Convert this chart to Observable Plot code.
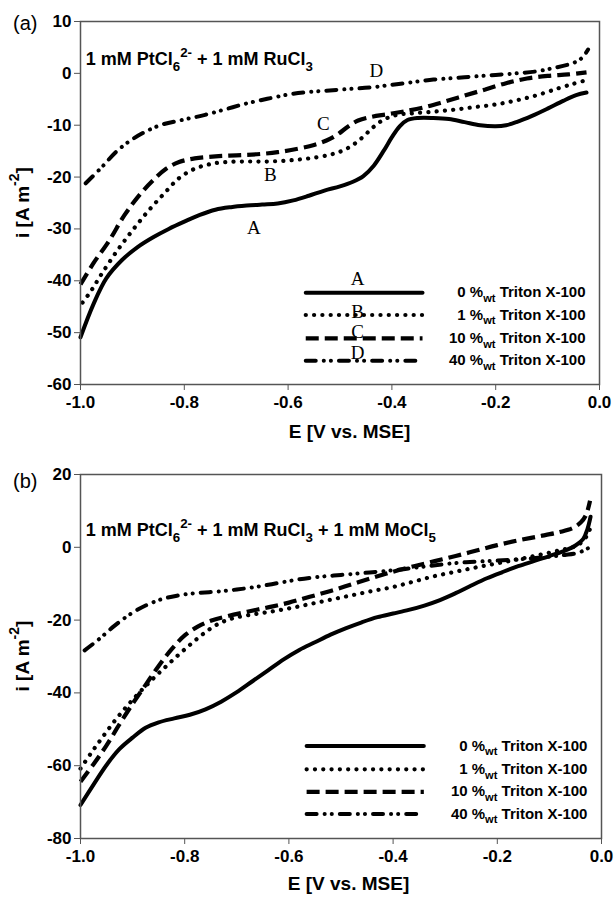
<!DOCTYPE html>
<html>
<head>
<meta charset="utf-8">
<script src="https://cdn.jsdelivr.net/npm/d3@7"></script>
<script src="https://cdn.jsdelivr.net/npm/@observablehq/plot@0.6"></script>
<style>
  body { margin: 0; background: #fff; }
  #chart { width: 614px; }
  #chart svg { display: block; overflow: visible; }
</style>
</head>
<body>
<div id="chart"></div>
<script>
// ---------------- DATA ----------------
// x ticks (E, V vs. MSE)
const xTicks = [-1.0, -0.8, -0.6, -0.4, -0.2, 0.0];
const yTicksA = [10, 0, -10, -20, -30, -40, -50, -60];
const yTicksB = [20, 0, -20, -40, -60, -80];

const seriesKeys = ["A", "B", "C", "D"];
const tritonPercent = ["0", "1", "10", "40"];

// Panel (a): 1 mM PtCl6^2- + 1 mM RuCl3   [E, i]
const a_A = [[-1.0,-50.9],[-0.975,-44.5],[-0.95,-39.5],[-0.92,-36.0],[-0.89,-33.5],[-0.86,-31.6],[-0.83,-30.0],[-0.8,-28.6],[-0.77,-27.3],[-0.74,-26.3],[-0.71,-25.8],[-0.68,-25.5],[-0.65,-25.3],[-0.62,-25.1],[-0.59,-24.5],[-0.56,-23.6],[-0.53,-22.6],[-0.5,-21.8],[-0.475,-20.9],[-0.455,-19.8],[-0.435,-17.8],[-0.415,-14.8],[-0.4,-12.3],[-0.385,-10.2],[-0.37,-9.0],[-0.35,-8.6],[-0.32,-8.6],[-0.29,-8.8],[-0.26,-9.4],[-0.23,-10.0],[-0.2,-10.2],[-0.18,-10.0],[-0.16,-9.4],[-0.13,-8.2],[-0.1,-6.8],[-0.07,-5.3],[-0.045,-4.2],[-0.025,-3.7]];
const a_B = [[-0.996,-44.2],[-0.98,-42.0],[-0.96,-38.8],[-0.93,-34.3],[-0.9,-30.3],[-0.87,-26.6],[-0.84,-23.3],[-0.81,-20.2],[-0.78,-18.4],[-0.75,-17.5],[-0.72,-17.1],[-0.68,-17.0],[-0.64,-17.0],[-0.6,-16.8],[-0.56,-16.4],[-0.52,-15.7],[-0.495,-14.9],[-0.475,-13.8],[-0.455,-12.2],[-0.435,-10.3],[-0.415,-8.9],[-0.39,-8.0],[-0.36,-7.7],[-0.32,-7.4],[-0.28,-7.0],[-0.24,-6.5],[-0.2,-6.0],[-0.16,-5.2],[-0.12,-4.2],[-0.08,-2.9],[-0.05,-2.0],[-0.025,-1.3]];
const a_C = [[-1.0,-40.7],[-0.975,-36.6],[-0.945,-32.3],[-0.915,-27.3],[-0.885,-23.3],[-0.86,-20.6],[-0.835,-18.4],[-0.81,-17.1],[-0.78,-16.4],[-0.74,-16.0],[-0.7,-15.8],[-0.66,-15.6],[-0.62,-15.2],[-0.58,-14.5],[-0.55,-13.8],[-0.525,-12.9],[-0.505,-11.8],[-0.485,-10.3],[-0.465,-9.1],[-0.44,-8.4],[-0.41,-7.9],[-0.38,-7.4],[-0.34,-6.6],[-0.3,-5.5],[-0.26,-4.3],[-0.22,-3.1],[-0.18,-1.9],[-0.14,-1.0],[-0.1,-0.5],[-0.06,-0.2],[-0.025,0.2]];
const a_D = [[-0.99,-21.2],[-0.96,-18.2],[-0.93,-15.0],[-0.9,-12.7],[-0.87,-11.0],[-0.84,-9.8],[-0.8,-8.9],[-0.76,-8.0],[-0.72,-6.9],[-0.68,-5.8],[-0.64,-4.9],[-0.6,-4.1],[-0.56,-3.6],[-0.52,-3.3],[-0.48,-3.0],[-0.44,-2.7],[-0.4,-2.2],[-0.36,-1.7],[-0.32,-1.2],[-0.28,-0.9],[-0.24,-0.6],[-0.2,-0.3],[-0.16,0.0],[-0.12,0.4],[-0.09,1.0],[-0.06,1.7],[-0.04,2.5],[-0.03,3.4],[-0.022,4.6]];

// Panel (b): 1 mM PtCl6^2- + 1 mM RuCl3 + 1 mM MoCl5   [E, i]
const b_A = [[-1.0,-70.8],[-0.975,-65.2],[-0.95,-59.8],[-0.925,-55.4],[-0.9,-52.3],[-0.875,-49.6],[-0.85,-48.1],[-0.82,-47.0],[-0.79,-46.0],[-0.76,-44.5],[-0.73,-42.4],[-0.7,-39.8],[-0.67,-36.8],[-0.64,-33.8],[-0.61,-30.8],[-0.58,-28.2],[-0.55,-26.1],[-0.52,-24.0],[-0.49,-22.2],[-0.46,-20.6],[-0.43,-19.2],[-0.4,-18.2],[-0.37,-17.2],[-0.34,-16.0],[-0.31,-14.5],[-0.28,-12.6],[-0.25,-10.5],[-0.22,-8.5],[-0.19,-6.8],[-0.16,-5.2],[-0.13,-3.8],[-0.1,-2.4],[-0.07,-0.9],[-0.05,0.5],[-0.035,2.3],[-0.027,5.0],[-0.021,8.4]];
const b_B = [[-1.0,-60.8],[-0.98,-56.6],[-0.96,-52.6],[-0.935,-47.8],[-0.91,-43.5],[-0.885,-39.6],[-0.86,-36.0],[-0.835,-32.6],[-0.81,-29.3],[-0.785,-26.2],[-0.76,-23.3],[-0.735,-21.0],[-0.71,-19.6],[-0.68,-18.7],[-0.64,-17.8],[-0.6,-16.8],[-0.56,-15.6],[-0.52,-14.4],[-0.48,-13.2],[-0.44,-12.0],[-0.4,-10.9],[-0.36,-9.4],[-0.32,-7.9],[-0.28,-6.7],[-0.24,-5.5],[-0.2,-4.4],[-0.16,-3.3],[-0.12,-2.1],[-0.08,-0.8],[-0.05,0.3],[-0.035,1.8],[-0.025,4.0],[-0.021,5.6]];
const b_C = [[-1.0,-64.4],[-0.975,-59.6],[-0.95,-54.4],[-0.925,-48.6],[-0.9,-43.0],[-0.875,-37.8],[-0.85,-32.6],[-0.825,-28.0],[-0.8,-24.2],[-0.775,-21.8],[-0.75,-20.2],[-0.72,-19.0],[-0.68,-17.7],[-0.64,-16.5],[-0.6,-15.2],[-0.56,-13.6],[-0.52,-12.0],[-0.48,-10.2],[-0.44,-8.4],[-0.4,-6.7],[-0.36,-5.2],[-0.32,-3.8],[-0.28,-2.4],[-0.24,-0.9],[-0.2,0.6],[-0.16,1.9],[-0.12,3.0],[-0.08,4.2],[-0.055,5.3],[-0.04,6.8],[-0.03,8.8],[-0.022,12.8]];
const b_D = [[-0.992,-28.3],[-0.965,-25.3],[-0.935,-21.6],[-0.905,-18.4],[-0.875,-16.0],[-0.845,-14.3],[-0.815,-13.3],[-0.78,-12.6],[-0.74,-12.2],[-0.7,-11.6],[-0.66,-10.8],[-0.62,-9.8],[-0.58,-8.8],[-0.54,-8.1],[-0.5,-7.6],[-0.46,-7.1],[-0.42,-6.6],[-0.38,-6.0],[-0.34,-5.3],[-0.3,-4.6],[-0.26,-4.1],[-0.22,-3.8],[-0.18,-3.5],[-0.14,-3.1],[-0.1,-2.6],[-0.07,-2.1],[-0.045,-1.5],[-0.03,-0.6],[-0.022,0.1]];

// Curve letter labels in panel (a): [letter, E, i]
const curveLabelsA = [["D",-0.43,0.4],["C",-0.532,-9.7],["B",-0.634,-19.6],["A",-0.666,-29.8]];

// ---------------- STYLE / LAYOUT ----------------
const FONT = "Liberation Sans, Arial, Helvetica, sans-serif";
const SERIF = "Liberation Serif, Times New Roman, serif";
const lineStyle = {
  A: {strokeWidth: 4.0, strokeDasharray: null, strokeLinecap: "round"},
  B: {strokeWidth: 4.2, strokeDasharray: "0.1 8.2", strokeLinecap: "round"},
  C: {strokeWidth: 4.2, strokeDasharray: "13 6", strokeLinecap: "butt"},
  D: {strokeWidth: 4.0, strokeDasharray: "10 8 0.1 7 0.1 8", strokeLinecap: "round"}
};

const panels = [
  {
    tag: "(a)", series: {A: a_A, B: a_B, C: a_C, D: a_D}, yDomain: [-60, 10], yTicks: yTicksA,
    height: 444, marginTop: 21, marginBottom: 60, marginRight: 15,
    tagY: 25, xTitleY: 433, xTitleShift: 10,
    note: [{t: "1 mM PtCl"}, {t: "6", s: "sub"}, {t: "2-", s: "sup"}, {t: " + 1 mM RuCl"}, {t: "3", s: "sub"}],
    noteAt: [-0.989, 1.5],
    legend: {x1: -0.566, x2: -0.341, xText: -0.026, rows: [-42.3, -46.6, -51.1, -55.4],
             letterX: -0.466, letterY: [-39.6, -46.0, -49.8, -53.9]},
    letters: curveLabelsA
  },
  {
    tag: "(b)", series: {A: b_A, B: b_B, C: b_C, D: b_D}, yDomain: [-80, 20], yTicks: yTicksB,
    height: 454, marginTop: 30, marginBottom: 60, marginRight: 13,
    tagY: 39, xTitleY: 441, xTitleShift: 8,
    note: [{t: "1 mM PtCl"}, {t: "6", s: "sub"}, {t: "2-", s: "sup"}, {t: " + 1 mM RuCl"}, {t: "3", s: "sub"}, {t: " + 1 mM MoCl"}, {t: "5", s: "sub"}],
    noteAt: [-0.989, 3.0],
    legend: {x1: -0.566, x2: -0.341, xText: -0.026, rows: [-54.6, -61.0, -67.2, -73.3]},
    letters: []
  }
];

// rich text helper: parts [{t, s: "sub"|"sup"}]
function richText(sel, parts, fs) {
  let cur = 0;
  for (const p of parts) {
    const target = p.s === "sub" ? 0.32 * fs : p.s === "sup" ? -0.45 * fs : 0;
    const ts = sel.append("tspan").text(p.t).attr("dy", target - cur);
    if (p.s) ts.attr("font-size", 0.74 * fs);
    cur = target;
  }
}

const container = d3.select("#chart");

for (const P of panels) {
  const marks = [];
  const lg = P.legend;
  seriesKeys.forEach((k, i) => {
    marks.push(Plot.line([[lg.x1, lg.rows[i]], [lg.x2, lg.rows[i]]], {
      x: d => d[0], y: d => d[1], stroke: "#000", ...lineStyle[k]
    }));
  });
  for (const k of seriesKeys) {
    marks.push(Plot.line(P.series[k], {
      x: d => d[0], y: d => d[1], curve: "catmull-rom", stroke: "#000", ...lineStyle[k]
    }));
  }
  if (P.letters.length) {
    marks.push(Plot.text(P.letters, {
      x: d => d[1], y: d => d[2], text: d => d[0],
      fontFamily: SERIF, fontSize: 19, fontWeight: "normal", fill: "#000"
    }));
  }
  if (lg.letterY) {
    marks.push(Plot.text(seriesKeys, {
      x: () => lg.letterX, y: (d, i) => lg.letterY[i], text: d => d,
      fontFamily: SERIF, fontSize: 19, fontWeight: "normal", fill: "#000"
    }));
  }
  marks.push(Plot.frame({stroke: "#555", strokeWidth: 1.5}));
  marks.push(Plot.axisX(xTicks, {
    anchor: "bottom", tickFormat: d => d.toFixed(1), tickSize: 6, tickPadding: 5,
    label: null, stroke: "#555", fill: "#000", fontSize: 17
  }));
  marks.push(Plot.axisY(P.yTicks, {
    anchor: "left", tickFormat: d => String(d), tickSize: 6, tickPadding: 3,
    label: null, stroke: "#555", fill: "#000", fontSize: 17
  }));

  const svg = Plot.plot({
    width: 614, height: P.height,
    marginLeft: 80, marginRight: P.marginRight, marginTop: P.marginTop, marginBottom: P.marginBottom,
    x: {domain: [-1, 0]},
    y: {domain: P.yDomain},
    style: {fontFamily: FONT, fontSize: "17px", fontWeight: "bold", color: "#000", background: "#fff", overflow: "visible"},
    marks
  });

  const sx = svg.scale("x"), sy = svg.scale("y");
  const s = d3.select(svg);
  const g = s.append("g").attr("font-family", FONT).attr("fill", "#000").attr("text-anchor", "start");

  g.append("text").attr("x", 13).attr("y", P.tagY).attr("dominant-baseline", "middle")
    .attr("text-anchor", "start").attr("font-size", 20).attr("font-weight", "normal").text(P.tag);

  const note = g.append("text").attr("x", sx.apply(P.noteAt[0])).attr("y", sy.apply(P.noteAt[1]))
    .attr("text-anchor", "start").attr("font-size", 18).attr("font-weight", "bold");
  richText(note, P.note, 18);

  seriesKeys.forEach((k, i) => {
    const t = g.append("text").attr("x", sx.apply(lg.xText)).attr("y", sy.apply(lg.rows[i]) + 5)
      .attr("text-anchor", "end").attr("font-size", 15).attr("font-weight", "bold");
    richText(t, [{t: tritonPercent[i] + " %"}, {t: "wt", s: "sub"}, {t: " Triton X-100"}], 15);
  });

  const [r0, r1] = sy.range;
  const ymid = (r0 + r1) / 2;
  const yt = g.append("text").attr("transform", `translate(24,${ymid}) rotate(-90)`)
    .attr("text-anchor", "middle").attr("dominant-baseline", "middle")
    .attr("font-size", 19).attr("font-weight", "bold");
  richText(yt, [{t: "i [A m"}, {t: "-2", s: "sup"}, {t: "]"}], 19);

  const [c0, c1] = sx.range;
  g.append("text").attr("x", (c0 + c1) / 2 + P.xTitleShift).attr("y", P.xTitleY)
    .attr("text-anchor", "middle").attr("dominant-baseline", "middle")
    .attr("font-size", 19).attr("font-weight", "bold").text("E [V vs. MSE]");

  container.node().appendChild(svg);
}
</script>
</body>
</html>
